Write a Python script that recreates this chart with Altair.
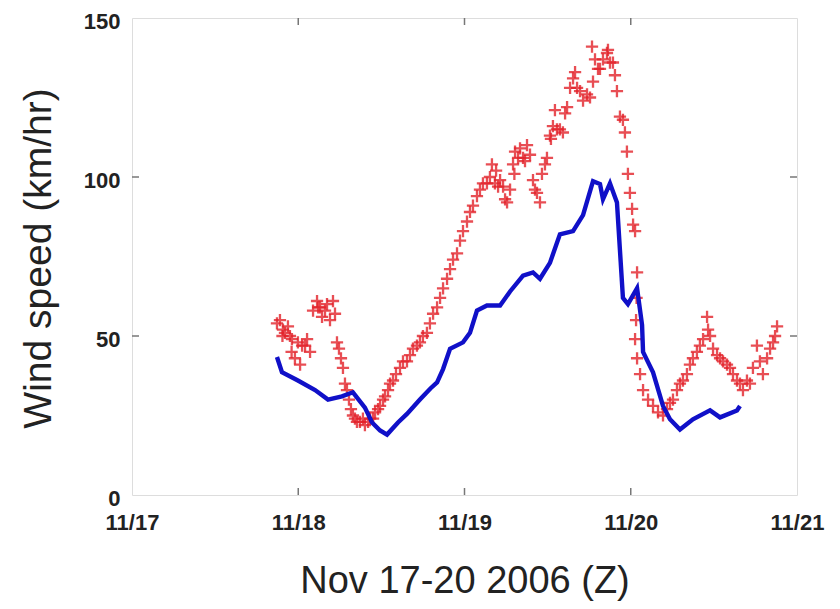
import altair as alt
import pandas as pd

# Observed wind speed (red +), days after 11/17 00Z, km/hr
obs_day = [0.872, 0.890, 0.908, 0.920, 0.938, 0.950, 0.962, 0.980, 0.998, 1.011, 1.023, 1.041, 1.053, 1.071,
           1.089, 1.113, 1.131, 1.143, 1.161, 1.173, 1.191, 1.209, 1.221,
           1.233, 1.245, 1.257, 1.269, 1.281, 1.293, 1.305, 1.317, 1.329, 1.341, 1.353, 1.371, 1.389, 1.401,
           1.420, 1.432, 1.450, 1.462, 1.480, 1.492, 1.510, 1.522, 1.540, 1.552, 1.570, 1.588, 1.612, 1.630,
           1.654, 1.672, 1.690, 1.714, 1.732, 1.750, 1.774, 1.792, 1.811, 1.835, 1.853, 1.871, 1.895, 1.913,
           1.931, 1.955, 1.973, 1.991, 2.015, 2.033, 2.051, 2.075, 2.093, 2.111, 2.135, 2.153, 2.165, 2.183,
           2.202, 2.214, 2.232, 2.244, 2.256, 2.274, 2.292, 2.304, 2.322, 2.334, 2.352, 2.364, 2.376, 2.394,
           2.412, 2.424, 2.436, 2.454, 2.466, 2.484, 2.496, 2.514, 2.532, 2.544, 2.556, 2.574, 2.592, 2.605,
           2.617, 2.635, 2.653, 2.677, 2.695, 2.713, 2.737, 2.755, 2.773, 2.785, 2.803, 2.815, 2.833, 2.857,
           2.875, 2.893, 2.905, 2.917, 2.935, 2.953, 2.965, 2.977, 2.983, 2.995, 3.008, 3.014, 3.026, 3.038,
           3.035, 2.767, 2.863, 2.665, 2.520, 2.300, 2.190, 1.120, 0.905, 0.960,
           3.032, 3.026, 3.038, 3.056, 3.074, 3.104, 3.134, 3.164, 3.194, 3.218, 3.236, 3.254, 3.278, 3.296,
           3.314, 3.338, 3.356, 3.374, 3.398, 3.416, 3.435, 3.459, 3.465, 3.477, 3.495, 3.519, 3.537, 3.555,
           3.579, 3.597, 3.615, 3.639, 3.657, 3.675, 3.699, 3.717, 3.735, 3.759, 3.777, 3.795, 3.820, 3.838,
           3.856, 3.868, 3.880]
obs_kmh = [54, 55, 52, 51, 53, 50, 49, 43, 48, 41, 47, 47, 49, 45,
           58, 61, 59, 56, 58, 60, 55, 61, 57,
           48, 46, 43, 40, 35, 33, 30, 27, 25, 24, 23, 23, 24, 22,
           23, 24, 24, 26, 27, 28, 30, 31, 33, 35, 36, 38, 40, 42,
           42, 44, 46, 47, 48, 50, 51, 54, 57, 59, 62, 65, 68, 71,
           74, 76, 80, 83, 86, 89, 91, 94, 96, 98, 98, 100, 104, 98,
           97, 99, 97, 93, 92, 96, 104, 108, 106, 109, 106, 105, 110, 107,
           99, 96, 95, 92, 101, 104, 106, 113, 116, 121, 115, 115, 114, 120,
           122, 128, 131, 128, 127, 124, 126, 125, 130, 137, 134, 134, 137, 139,
           136, 136, 132, 127, 119, 118, 114, 108, 101, 95, 90, 85, 83, 70,
           62, 141, 140, 133, 112, 101, 102, 59, 50, 45,
           55, 49, 43, 38, 33, 30, 28, 26, 25, 27, 29, 30, 33, 35,
           36, 38, 41, 43, 45, 47, 49, 56, 52, 50, 46, 44, 43, 42,
           41, 40, 38, 36, 35, 33, 36, 35, 40, 47, 42, 38, 43, 46,
           48, 50, 53]

# Model wind speed (blue line)
mod_day = [0.872, 0.902, 0.998, 1.101, 1.179, 1.263, 1.329, 1.401, 1.444, 1.492, 1.534, 1.600, 1.654,
           1.732, 1.795, 1.835, 1.871, 1.913, 1.991, 2.033, 2.075, 2.135, 2.214, 2.274, 2.352, 2.412,
           2.454, 2.514, 2.574, 2.653, 2.713, 2.773, 2.815, 2.833, 2.875, 2.917, 2.935, 2.953, 2.983,
           3.038, 3.068, 3.074, 3.134, 3.194, 3.236, 3.296, 3.374, 3.477, 3.537, 3.639, 3.657]
mod_kmh = [43.4, 38.6, 36, 33, 30, 31, 32.3, 27.5, 22.8, 20.3, 19, 22.8, 25.5,
           30, 33.5, 35.4, 39.6, 46, 48, 51, 58, 59.6, 59.6, 64, 69, 70,
           68, 73, 82, 83, 88, 98.7, 97.8, 93, 98, 92, 77, 62, 60,
           65, 53.5, 45, 38.6, 28, 23.8, 20.6, 23.8, 26.6, 24.4, 26.6, 28]

x_ticks = [1, 2, 3]
y_ticks = [50, 100]
x_tick_labels = ["11/17", "11/18", "11/19", "11/20", "11/21"]

W, H = 665, 477
FONT = "Liberation Sans"

obs = pd.DataFrame({"day": obs_day, "kmh": obs_kmh})
mod = pd.DataFrame({"day": mod_day, "kmh": mod_kmh})
xt = pd.DataFrame({"v": x_ticks})
yt = pd.DataFrame({"v": y_ticks})

label_expr = "[" + ",".join("'%s'" % s for s in x_tick_labels) + "][datum.value]"

xscale = alt.Scale(domain=[0, 4], nice=False, zero=False)
yscale = alt.Scale(domain=[0, 150], nice=False)

x_enc = alt.X("day:Q", scale=xscale,
              axis=alt.Axis(values=[0, 1, 2, 3, 4], labelExpr=label_expr, title="Nov 17-20 2006 (Z)",
                            grid=False, domain=False, ticks=False, labelFontSize=22, labelFont=FONT,
                            labelFontWeight="bold", labelColor="#222", labelPadding=17,
                            labelFlush=False, labelOverlap=False,
                            titleFont=FONT, titleFontSize=38, titleFontWeight="normal",
                            titleColor="#222", titleY=97, titleBaseline="alphabetic"))
y_enc = alt.Y("kmh:Q", scale=yscale,
              axis=alt.Axis(values=[0, 50, 100, 150], title="Wind speed (km/hr)", grid=False,
                            domain=False, ticks=False, labelFontSize=22, labelFont=FONT,
                            labelFontWeight="bold", labelColor="#222", labelPadding=12,
                            labelOffset=3, labelFlush=False,
                            titleFont=FONT, titleFontSize=39, titleFontWeight="normal",
                            titleColor="#222", titleX=-82, titleY=240, titleBaseline="alphabetic",
                            titleAlign="center", titleAngle=270))

plus = "M-1,0L1,0M0,-1L0,1"
points = alt.Chart(obs).mark_point(shape=plus, filled=False, color="#e3222a", strokeWidth=2.3,
                                   size=150, opacity=0.8).encode(x=x_enc, y=y_enc)
line = alt.Chart(mod).mark_line(color="#1010c8", strokeWidth=4.4).encode(
    x=alt.X("day:Q", scale=xscale), y=alt.Y("kmh:Q", scale=yscale))

tk = dict(color="#777", strokeWidth=1.5)
xb = alt.Chart(xt).mark_rule(**tk).encode(x=alt.X("v:Q", scale=xscale), y=alt.value(H), y2=alt.value(H - 7))
xtop = alt.Chart(xt).mark_rule(**tk).encode(x=alt.X("v:Q", scale=xscale), y=alt.value(0), y2=alt.value(7))
yl = alt.Chart(yt).mark_rule(**tk).encode(y=alt.Y("v:Q", scale=yscale), x=alt.value(0), x2=alt.value(7))
yr = alt.Chart(yt).mark_rule(**tk).encode(y=alt.Y("v:Q", scale=yscale), x=alt.value(W), x2=alt.value(W - 7))

chart = alt.layer(points, line, xb, xtop, yl, yr).properties(
    width=W, height=H, autosize="none",
    padding={"left": 124, "top": 10, "right": 30, "bottom": 112},
).configure_view(stroke="#888", strokeWidth=1.5).configure(background="white")

chart.save("out.html", embed_options={"renderer": "svg", "actions": False})
